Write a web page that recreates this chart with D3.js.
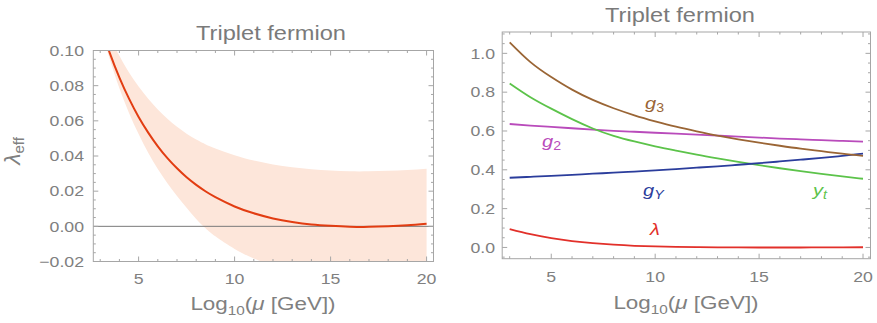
<!DOCTYPE html>
<html><head><meta charset="utf-8">
<script src="https://cdn.jsdelivr.net/npm/d3@7"></script>
<style>body{margin:0;background:#fff}svg{display:block}text{font-family:"Liberation Sans",Arial,Helvetica,sans-serif}</style>
</head><body><svg id="c" width="877" height="323"></svg>
<script>
// ---------- data ----------
const leftX   = [3, 3.5, 4, 4.5, 5, 5.5, 6, 6.5, 7, 7.5, 8, 8.5, 9, 10, 11, 12, 13, 14, 15, 16, 17, 18, 19, 20];
const lamEff  = [0.1145, 0.0985, 0.0846, 0.0726, 0.0622, 0.0533, 0.0455, 0.0388, 0.0330, 0.0279, 0.0236, 0.0198, 0.0166, 0.0113, 0.0074, 0.0045, 0.0025, 0.0011, 0.0003, -0.0002, -0.0003, 0.0000, 0.0006, 0.0015];
const bandHi  = [0.125, 0.109, 0.097, 0.0875, 0.0795, 0.0725, 0.0665, 0.0612, 0.0566, 0.0527, 0.0494, 0.0466, 0.0443, 0.0404, 0.0374, 0.0352, 0.0336, 0.0325, 0.0317, 0.0313, 0.0313, 0.0316, 0.0321, 0.0328];
const bandLo  = [0.114, 0.095, 0.0785, 0.0645, 0.0525, 0.0418, 0.0326, 0.0245, 0.0172, 0.0106, 0.0042, -0.0012, -0.0057, -0.0129, -0.0183, -0.0224, -0.0255, -0.0278, -0.0295, -0.0308, -0.0318, -0.0326, -0.0332, -0.0336];

const rightX  = [3, 4, 5, 6, 7, 8, 9, 10, 11, 12, 13, 14, 15, 16, 17, 18, 19, 20];
const g3      = [1.057, 0.955, 0.878, 0.813, 0.760, 0.717, 0.681, 0.650, 0.622, 0.598, 0.576, 0.557, 0.540, 0.524, 0.509, 0.496, 0.483, 0.472];
const g2      = [0.636, 0.628, 0.621, 0.614, 0.607, 0.601, 0.596, 0.591, 0.586, 0.581, 0.576, 0.571, 0.566, 0.561, 0.557, 0.553, 0.549, 0.545];
const gY      = [0.359, 0.364, 0.369, 0.374, 0.380, 0.385, 0.391, 0.397, 0.404, 0.411, 0.418, 0.426, 0.434, 0.443, 0.452, 0.461, 0.472, 0.483];
const yt      = [0.845, 0.774, 0.715, 0.661, 0.613, 0.575, 0.546, 0.521, 0.499, 0.478, 0.459, 0.441, 0.424, 0.408, 0.393, 0.379, 0.366, 0.354];
const lam     = [0.094, 0.068, 0.048, 0.033, 0.022, 0.014, 0.0085, 0.005, 0.0028, 0.0014, 0.0005, 0.0, -0.0002, -0.0003, -0.0002, 0.0001, 0.0005, 0.001];

const xTicks  = [5, 10, 15, 20];
const yTicksL = [-0.02, 0.00, 0.02, 0.04, 0.06, 0.08, 0.10];
const yTicksR = [0.0, 0.2, 0.4, 0.6, 0.8, 1.0];
const title   = "Triplet fermion";

// ---------- setup ----------
const svg = d3.select("#c");
const SX = 1.18;
const GRAY = "#808080", FRAME = "#a6a6a6";
const CURVE = d3.curveNatural;

function txt(x, y, str, size, anchor, color) {
  const t = svg.append("text")
    .attr("transform", `translate(${x},${y}) scale(${SX},1)`)
    .attr("font-size", size).attr("text-anchor", anchor || "start")
    .attr("fill", color || GRAY);
  if (str !== null) t.text(str);
  return t;
}

function frame(xs, ys, xMinor, yMinor, yMajor) {
  const [x0, x1] = xs.range(), [yb, yt_] = ys.range();
  const g = svg.append("g").attr("stroke", FRAME).attr("fill", "none");
  g.append("rect").attr("x", x0).attr("y", yt_).attr("width", x1 - x0).attr("height", yb - yt_).attr("stroke-width", 1);
  const xd = xs.domain(), yd = ys.domain();
  for (let v = Math.ceil(xd[0]); v <= xd[1]; v += xMinor) {
    const major = Math.abs(v % 5) < 1e-9;
    const L = major ? 5 : 2.5, X = xs(v);
    g.append("line").attr("x1", X).attr("x2", X).attr("y1", yb).attr("y2", yb - L);
    g.append("line").attr("x1", X).attr("x2", X).attr("y1", yt_).attr("y2", yt_ + L);
  }
  const n0 = Math.ceil(yd[0] / yMinor - 1e-9), n1 = Math.floor(yd[1] / yMinor + 1e-9);
  for (let i = n0; i <= n1; i++) {
    const v = i * yMinor;
    const major = Math.abs(v / yMajor - Math.round(v / yMajor)) < 1e-6;
    const L = major ? 5 : 2.5, Y = ys(v);
    g.append("line").attr("x1", x0).attr("x2", x0 + L).attr("y1", Y).attr("y2", Y);
    g.append("line").attr("x1", x1).attr("x2", x1 - L).attr("y1", Y).attr("y2", Y);
  }
}

function axisLabel(x, y) {
  const t = txt(x, y, null, 19, "middle");
  t.append("tspan").text("Log");
  t.append("tspan").attr("font-size", 13).attr("dy", 5).text("10");
  t.append("tspan").attr("dy", -5).text("(");
  t.append("tspan").attr("font-style", "italic").text("\u03bc");
  t.append("tspan").text(" [GeV])");
}

// ---------- left panel ----------
const xL = d3.scaleLinear().domain([2.64, 20.36]).range([93.3, 433.5]);
const yL = d3.scaleLinear().domain([-0.02, 0.10]).range([261.5, 50.5]);
svg.append("clipPath").attr("id", "clipL").append("rect")
  .attr("x", 93.3).attr("y", 50.5).attr("width", 433.5 - 93.3).attr("height", 211);
const band = d3.area().x((d, i) => xL(leftX[i])).y0((d, i) => yL(bandLo[i])).y1((d, i) => yL(bandHi[i])).curve(CURVE);
svg.append("path").datum(leftX).attr("d", band).attr("fill", "#fde6da").attr("clip-path", "url(#clipL)");
svg.append("line").attr("x1", 93.3).attr("x2", 433.5).attr("y1", yL(0)).attr("y2", yL(0)).attr("stroke", "#7a7a7a").attr("stroke-width", 1);
const lineL = d3.line().x((d, i) => xL(leftX[i])).y(d => yL(d)).curve(CURVE);
svg.append("path").datum(lamEff).attr("d", lineL).attr("fill", "none").attr("stroke", "#e23d12").attr("stroke-width", 2).attr("clip-path", "url(#clipL)");
frame(xL, yL, 1, 0.005, 0.02);
yTicksL.forEach(v => {
  const s = v < 0 ? "\u2212" + Math.abs(v).toFixed(2) : v.toFixed(2);
  txt(84, yL(v) + 5.3, s, 15, "end");
});
xTicks.forEach(v => txt(xL(v), 283.5, String(v), 15, "middle"));
txt(271, 40, title, 20, "middle", "#7a7a7a");
axisLabel(263, 310);
{
  const t = svg.append("text").attr("transform", "translate(20,151) rotate(-90)")
    .attr("font-size", 23).attr("text-anchor", "middle").attr("fill", GRAY);
  t.append("tspan").attr("font-style", "italic").text("\u03bb");
  t.append("tspan").attr("font-size", 15).attr("dy", 4).text("eff");
}

// ---------- right panel ----------
const xR = d3.scaleLinear().domain([2.64, 20.36]).range([502.2, 870.5]);
const yR = d3.scaleLinear().domain([-0.058, 1.11]).range([258.7, 32]);
const lineR = vals => d3.line().x((d, i) => xR(rightX[i])).y(d => yR(d)).curve(CURVE)(vals);
const series = [
  {v: g2, c: "#b94bbb"}, {v: yt, c: "#5cc34a"}, {v: gY, c: "#2b3d9c"},
  {v: g3, c: "#9a6535"}, {v: lam, c: "#e2302a"}
];
series.forEach(s => svg.append("path").attr("d", lineR(s.v)).attr("fill", "none").attr("stroke", s.c).attr("stroke-width", 1.8));
frame(xR, yR, 1, 0.05, 0.2);
yTicksR.forEach(v => txt(495, yR(v) + 5.3, v.toFixed(1), 15, "end"));
xTicks.forEach(v => txt(xR(v), 282, String(v), 15, "middle"));
txt(680, 21.5, title, 20, "middle", "#7a7a7a");
axisLabel(686, 308.5);
function lab(x, y, main, sub, color, subItalic) {
  const t = txt(x, y, null, 17, "start", color);
  t.append("tspan").attr("font-style", "italic").text(main);
  if (sub) t.append("tspan").attr("font-size", 12).attr("dy", 3).attr("font-style", subItalic ? "italic" : "normal").text(sub);
}
lab(645, 109, "g", "3", "#9a6535");
lab(542, 147, "g", "2", "#b94bbb");
lab(643, 196, "g", "Y", "#2b3d9c", true);
lab(813, 196, "y", "t", "#5cc34a", true);
lab(650, 235, "\u03bb", null, "#e2302a");
</script></body></html>
